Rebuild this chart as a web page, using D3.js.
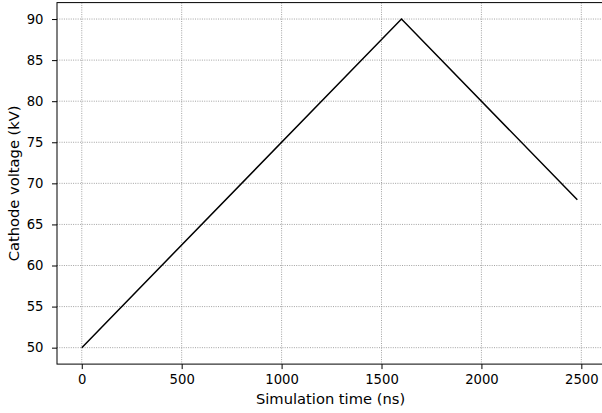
<!DOCTYPE html>
<html>
<head>
<meta charset="utf-8">
<script src="https://cdn.jsdelivr.net/npm/d3@7"></script>
<style>
  html, body { margin: 0; padding: 0; background: #fff; }
  svg { display: block; }
  text { font-family: "DejaVu Sans", sans-serif; fill: #000; }
</style>
</head>
<body>
<svg id="chart" width="602" height="413"></svg>
<script>
// Cathode voltage ramp: time (ns) vs voltage (kV)
const timeNs = [0, 1600, 2480];
const voltageKV = [50, 90, 68];
const xTicks = [0, 500, 1000, 1500, 2000, 2500];
const yTicks = [50, 55, 60, 65, 70, 75, 80, 85, 90];
const xLabel = "Simulation time (ns)";
const yLabel = "Cathode voltage (kV)";

const svg = d3.select("#chart");
const plot = { left: 57, top: 2.6, right: 602.1, bottom: 364.1 };
const tickFont = 13.2, labelFont = 14.7;

const x = d3.scaleLinear().domain([-124, 2604]).range([plot.left, plot.right]);
const y = d3.scaleLinear().domain([48, 92]).range([plot.bottom, plot.top]);

// grid
const grid = svg.append("g").attr("stroke", "#8c8c8c").attr("stroke-width", 0.8)
  .attr("stroke-dasharray", "1,1.3");
grid.selectAll("line.vx").data(xTicks).join("line")
  .attr("class", "vx")
  .attr("x1", d => x(d)).attr("x2", d => x(d))
  .attr("y1", plot.top).attr("y2", plot.bottom);
grid.selectAll("line.hy").data(yTicks).join("line")
  .attr("class", "hy")
  .attr("x1", plot.left).attr("x2", plot.right)
  .attr("y1", d => y(d)).attr("y2", d => y(d));

// axes
const xAxis = d3.axisBottom(x).tickValues(xTicks).tickSize(5).tickPadding(6).tickFormat(d3.format("d"));
const yAxis = d3.axisLeft(y).tickValues(yTicks).tickSize(5).tickPadding(8.5).tickFormat(d3.format("d"));

const gx = svg.append("g").attr("transform", `translate(0,${plot.bottom})`).call(xAxis);
const gy = svg.append("g").attr("transform", `translate(${plot.left},0)`).call(yAxis);
[gx, gy].forEach(g => {
  g.select(".domain").remove();
  g.selectAll(".tick line").attr("stroke", "#000").attr("stroke-width", 1);
  g.selectAll(".tick text").attr("font-size", tickFont).attr("font-family", "DejaVu Sans");
});

// spines (right spine falls just outside the canvas)
svg.append("rect")
  .attr("x", plot.left).attr("y", plot.top)
  .attr("width", plot.right - plot.left + 1).attr("height", plot.bottom - plot.top)
  .attr("fill", "none").attr("stroke", "#000").attr("stroke-width", 1);

// data line
const line = d3.line().x((d, i) => x(timeNs[i])).y(d => y(d));
svg.append("path").datum(voltageKV)
  .attr("d", line).attr("fill", "none")
  .attr("stroke", "#000").attr("stroke-width", 1.5);

// axis labels
svg.append("text").attr("x", (plot.left + plot.right) / 2 + 1).attr("y", 404)
  .attr("text-anchor", "middle").attr("font-size", labelFont).text(xLabel);
svg.append("text")
  .attr("transform", `translate(19,${(plot.top + plot.bottom) / 2}) rotate(-90)`)
  .attr("text-anchor", "middle").attr("font-size", labelFont).text(yLabel);
</script>
</body>
</html>
